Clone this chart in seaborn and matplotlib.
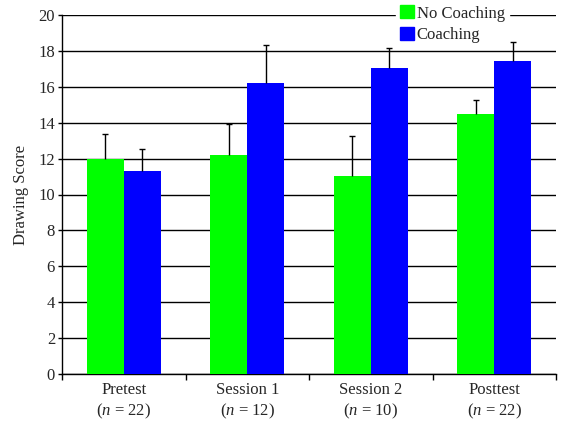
import pandas as pd
import matplotlib
matplotlib.use("Agg")
import matplotlib.pyplot as plt
import matplotlib.patches as mpatches
import seaborn as sns

# values
sessions = ["Pretest", "Session 1", "Session 2", "Posttest"]
n_sizes = [22, 12, 10, 22]
groups = ["No Coaching", "Coaching"]
no_coaching = [12.0, 12.2, 11.05, 14.5]
coaching = [11.3, 16.2, 17.05, 17.45]
no_coaching_err = [1.35, 1.7, 2.2, 0.75]
coaching_err = [1.25, 2.15, 1.1, 1.05]

COLORS = {"No Coaching": "#00ff00", "Coaching": "#0000ff"}

sns.set_style("white")
plt.rcParams["font.family"] = ["Liberation Serif", "DejaVu Serif"]
plt.rcParams["mathtext.fontset"] = "custom"
plt.rcParams["mathtext.rm"] = "Liberation Serif"
plt.rcParams["mathtext.it"] = "Liberation Serif:italic"

df = pd.DataFrame({
    "Session": sessions * 2,
    "Group": [groups[0]] * 4 + [groups[1]] * 4,
    "Score": no_coaching + coaching,
    "Err": no_coaching_err + coaching_err,
})

fig = plt.figure(figsize=(5.61, 4.25), dpi=100)
ax = fig.add_axes([62 / 561, 51 / 425, 494 / 561, 359 / 425])

sns.barplot(data=df, x="Session", y="Score", hue="Group", order=sessions,
            hue_order=groups, palette=COLORS, width=0.6, saturation=1,
            errorbar=None, legend=False, ax=ax, zorder=3, linewidth=0,
            edgecolor="none")

# one-sided error bars on each bar, cap only on the top end
for cont, errs in zip(ax.containers, [no_coaching_err, coaching_err]):
    for bar, e in zip(cont, errs):
        xc = bar.get_x() + bar.get_width() / 2
        _, caps, _ = ax.errorbar(xc, bar.get_height(), yerr=[[0], [e]], color="black",
                                 lw=1, capsize=2.5, capthick=1, zorder=4)
        caps[0].set_visible(False)

ax.set_ylim(0, 20)
ax.set_xlim(-0.5, 3.5)
ax.set_yticks(range(0, 21, 2))
ax.yaxis.grid(True, color="black", lw=1, zorder=0)
ax.set_axisbelow(True)
ax.tick_params(axis="y", length=3, width=1, color="black", labelsize=12, pad=2, left=True)

ax.set_xticks([-0.5, 0.5, 1.5, 2.5, 3.5])
ax.set_xticklabels([])
ax.set_xticks(range(4), minor=True)
ax.set_xticklabels([f"{s}\n($n$ = {n})" for s, n in zip(sessions, n_sizes)],
                   minor=True, fontsize=12, linespacing=1.25)
ax.tick_params(axis="x", which="major", length=4, width=1, color="black", bottom=True)
ax.tick_params(axis="x", which="minor", length=0, pad=6)

ax.set_xlabel("")
ax.set_ylabel("Drawing Score", fontsize=12, labelpad=7)

for side in ["top", "right"]:
    ax.spines[side].set_visible(False)
for side in ["left", "bottom"]:
    ax.spines[side].set_color("black")
    ax.spines[side].set_linewidth(1)

handles = [mpatches.Patch(color=COLORS[g], label=g) for g in groups]
leg = fig.legend(handles=handles, loc="upper left", bbox_to_anchor=(396 / 561, 1 - 1 / 425),
                 frameon=True, fontsize=12, handlelength=0.85, handleheight=0.85,
                 handletextpad=0.15, labelspacing=0.3, borderpad=0.25, borderaxespad=0)
leg.get_frame().set_facecolor("white")
leg.get_frame().set_edgecolor("white")
leg.get_frame().set_alpha(1)

fig.savefig("out.png", dpi=100)
